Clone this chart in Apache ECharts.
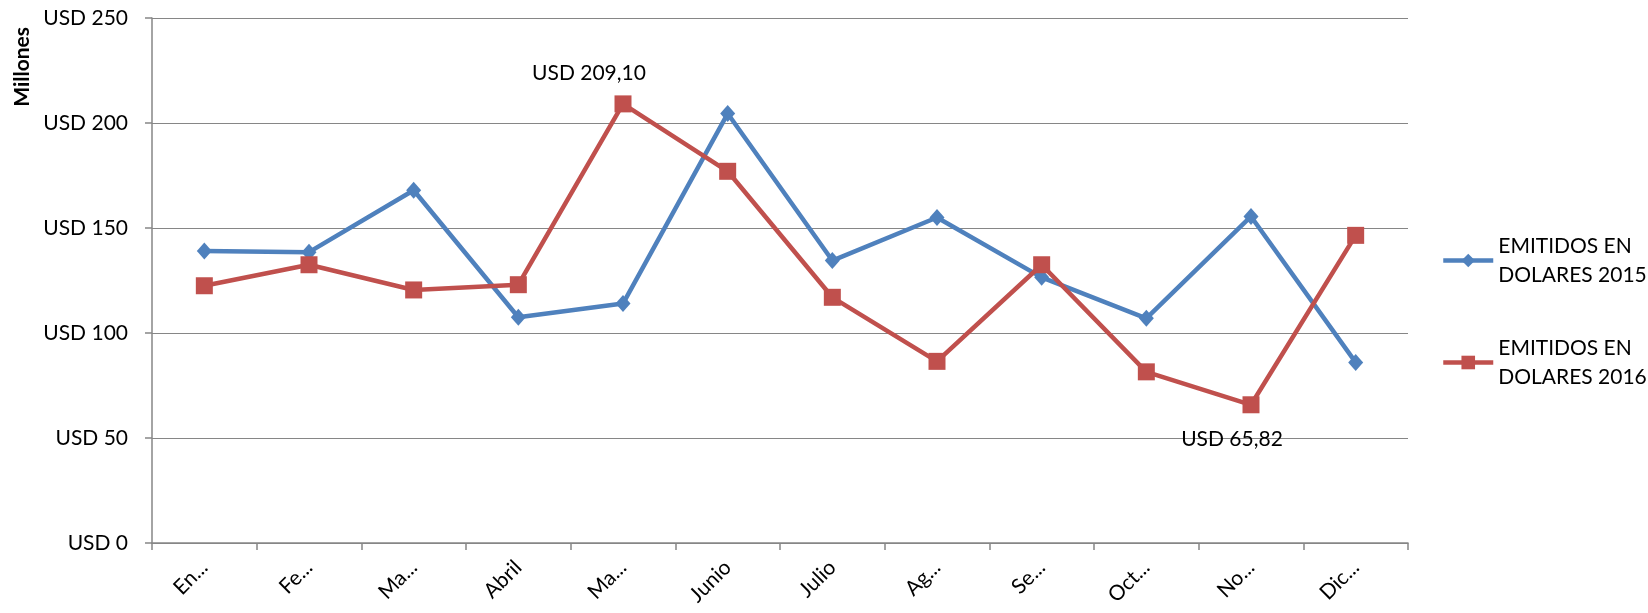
<!DOCTYPE html>
<html><head><meta charset="utf-8">
<script src="https://cdn.jsdelivr.net/npm/echarts@6/dist/echarts.min.js"></script>
<style>html,body{margin:0;padding:0;background:#fff}#c{width:1648px;height:613px}</style>
</head><body><div id="c"></div>
<script>
const categories = ["En...", "Fe...", "Ma...", "Abril", "Ma...", "Junio", "Julio", "Ag...", "Se...", "Oct...", "No...", "Dic..."];
const seriesNames = ["EMITIDOS EN\nDOLARES 2015", "EMITIDOS EN\nDOLARES 2016"];
const values2015 = [139, 138.5, 168, 107.5, 114, 204.5, 134.5, 155, 126.5, 107, 155.5, 86];
const values2016 = [122.5, 132.5, 120.5, 123, 209.10, 177, 117, 86.5, 132.5, 81.5, 65.82, 146.5];
const yTicks = [0, 50, 100, 150, 200, 250];
const annotated2016 = {4: "USD 209,10", 10: "USD 65,82"};

const FONT = "Lato";
const FS = 21;
const chart = echarts.init(document.getElementById('c'));
function fmt(v){ return "USD " + v; }
const data2016 = values2016.map((v, i) => {
  if (annotated2016[i] === undefined) return v;
  const above = i === 4;
  return {
    value: v,
    label: {
      show: true,
      formatter: annotated2016[i],
      position: above ? 'top' : 'bottom',
      offset: above ? [-34, -7] : [-19, 10],
      fontFamily: FONT, fontSize: FS, color: '#000'
    }
  };
});
chart.setOption({
  animation: false,
  textStyle: {fontFamily: FONT},
  grid: {left: 152, right: 240, top: 18, bottom: 70},
  legend: {
    orient: 'vertical', left: 1436, top: 212, itemGap: 15,
    itemWidth: 50, itemHeight: 17,
    lineStyle: {width: 4.5},
    textStyle: {fontFamily: FONT, fontSize: FS, color: '#000', lineHeight: 29, padding: [29, 0, 0, 0]},
    data: [seriesNames[0], seriesNames[1]]
  },
  graphic: [{
    type: 'text', left: 12, top: 27, rotation: Math.PI/2,
    style: {text: 'Millones', font: 'bold 21px ' + FONT, fill: '#000'}
  }],
  xAxis: {
    type: 'category', data: categories, boundaryGap: true,
    axisLine: {lineStyle: {color: '#868686', width: 1.5}},
    axisTick: {show: true, length: 7, alignWithLabel: false, lineStyle: {color: '#868686', width: 1.5}},
    axisLabel: {rotate: 45, fontSize: FS, color: '#000', fontFamily: FONT, margin: 21, interval: 0}
  },
  yAxis: {
    type: 'value', min: 0, max: 250, interval: 50,
    axisLine: {show: true, lineStyle: {color: '#868686', width: 1.5}},
    axisTick: {show: true, length: 7, inside: false, lineStyle: {color: '#868686', width: 1.5}},
    splitLine: {lineStyle: {color: '#868686', width: 1.2}},
    axisLabel: {formatter: fmt, fontSize: FS, color: '#000', fontFamily: FONT, margin: 24}
  },
  series: [
    {
      name: seriesNames[0], type: 'line', data: values2015,
      symbol: 'diamond', symbolSize: [15, 17],
      lineStyle: {color: '#4F81BD', width: 4.5},
      itemStyle: {color: '#4F81BD'}
    },
    {
      name: seriesNames[1], type: 'line', data: data2016,
      symbol: 'rect', symbolSize: 17,
      lineStyle: {color: '#C0504D', width: 4.5},
      itemStyle: {color: '#C0504D'}
    }
  ]
});
</script></body></html>
